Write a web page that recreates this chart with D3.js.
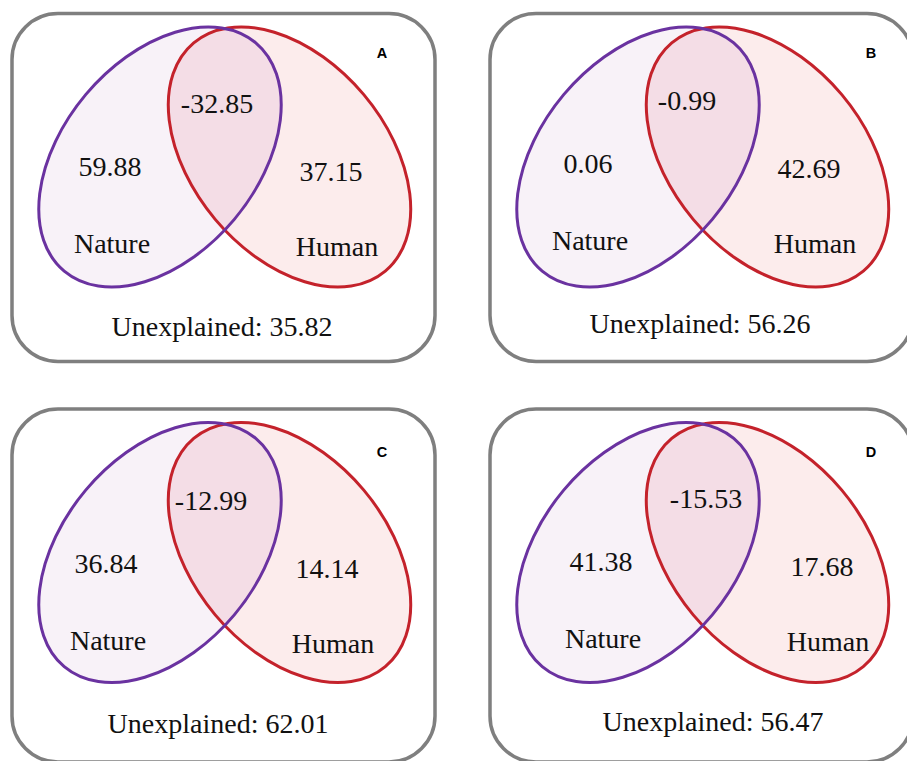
<!DOCTYPE html>
<html>
<head>
<meta charset="utf-8">
<script src="https://cdn.jsdelivr.net/npm/d3@7/dist/d3.min.js"></script>
<style>
  body { margin: 0; background: #fff; }
  .num { font-family: "Liberation Serif", "Times New Roman", serif; font-size: 28px; fill: #111; }
  .tag { font-family: "Liberation Sans", Arial, sans-serif; font-size: 14.5px; font-weight: bold; fill: #000; }
</style>
</head>
<body>
<div class="canvas"></div>
<script>

// DATA

var panels      = ["A", "B", "C", "D"];
var setNames    = ["Nature", "Human"];
var natureOnly  = [59.88, 0.06, 36.84, 41.38];
var humanOnly   = [37.15, 42.69, 14.14, 17.68];
var shared      = [-32.85, -0.99, -12.99, -15.53];
var unexplained = [35.82, 56.26, 62.01, 56.47];

// LAYOUT (per panel nudges of the labels)

var layout = [
	{col: 0, row: 0, dx: 0,  dy: 0,  midDx: 0,  tagDx: 0},
	{col: 1, row: 0, dx: 0,  dy: -3, midDx: -8, tagDx: 11},
	{col: 0, row: 1, dx: -4, dy: 2,  midDx: -2, tagDx: 0},
	{col: 1, row: 1, dx: 13, dy: 0,  midDx: -2, tagDx: 11}
];

// plain hyphen for negatives, like the original
var fmt = d3.formatLocale({decimal: ".", thousands: ",", grouping: [3], currency: ["", ""], minus: "-"}).format(".2f");

var svg = d3.select(".canvas")
			.append("svg")
			.attr("width", 907)
			.attr("height", 761);

var boxX = d3.scaleOrdinal().domain([0, 1]).range([12, 490]);
var boxY = d3.scaleOrdinal().domain([0, 1]).range([13.5, 409]);
var boxH = d3.scaleOrdinal().domain([0, 1]).range([348, 353]);

var boxW = 423;
var rx = 149, ry = 97, tilt = 50;
var natureCx = 148, humanCx = 277.5, vennCy = 143.5;

var defs = svg.append("defs");

panels.forEach(function(p, i){

	var L = layout[i];
	var g = svg.append("g")
			   .attr("transform", "translate(" + boxX(L.col) + "," + boxY(L.row) + ")");

	// BOX
	g.append("rect")
	 .attr("width", boxW)
	 .attr("height", boxH(L.row))
	 .attr("rx", 46)
	 .attr("ry", 46)
	 .attr("fill", "#fff")
	 .attr("stroke", "#7f7f7f")
	 .attr("stroke-width", 3.5);

	defs.append("clipPath")
		.attr("id", "natureClip" + i)
		.append("ellipse")
		.attr("rx", rx)
		.attr("ry", ry)
		.attr("transform", "translate(" + natureCx + "," + vennCy + ") rotate(" + (-tilt) + ")");

	// FILLS
	g.append("ellipse")
	 .attr("rx", rx).attr("ry", ry)
	 .attr("transform", "translate(" + natureCx + "," + vennCy + ") rotate(" + (-tilt) + ")")
	 .attr("fill", "#f8f2f8");

	g.append("ellipse")
	 .attr("rx", rx).attr("ry", ry)
	 .attr("transform", "translate(" + humanCx + "," + vennCy + ") rotate(" + tilt + ")")
	 .attr("fill", "#fcecec");

	g.append("g")
	 .attr("clip-path", "url(#natureClip" + i + ")")
	 .append("ellipse")
	 .attr("rx", rx).attr("ry", ry)
	 .attr("transform", "translate(" + humanCx + "," + vennCy + ") rotate(" + tilt + ")")
	 .attr("fill", "#f4dde6");

	// OUTLINES
	g.append("ellipse")
	 .attr("rx", rx).attr("ry", ry)
	 .attr("transform", "translate(" + humanCx + "," + vennCy + ") rotate(" + tilt + ")")
	 .attr("fill", "none")
	 .attr("stroke", "#c4222b")
	 .attr("stroke-width", 3);

	g.append("ellipse")
	 .attr("rx", rx).attr("ry", ry)
	 .attr("transform", "translate(" + natureCx + "," + vennCy + ") rotate(" + (-tilt) + ")")
	 .attr("fill", "none")
	 .attr("stroke", "#6a32a0")
	 .attr("stroke-width", 3);

	// LABELS
	var labels = [
		{x: 205 + L.midDx, y: 99,  text: fmt(shared[i])},
		{x: 98,  y: 162, text: fmt(natureOnly[i])},
		{x: 319, y: 167, text: fmt(humanOnly[i])},
		{x: 100, y: 239, text: setNames[0]},
		{x: 325, y: 242, text: setNames[1]},
		{x: 210, y: 322, text: "Unexplained: " + fmt(unexplained[i])}
	];

	labels.forEach(function(d){
		g.append("text")
		 .attr("class", "num")
		 .attr("text-anchor", "middle")
		 .attr("x", d.x + L.dx)
		 .attr("y", d.y + L.dy)
		 .text(d.text);
	});

	g.append("text")
	 .attr("class", "tag")
	 .attr("text-anchor", "middle")
	 .attr("x", 370 + L.tagDx)
	 .attr("y", 44 + (L.row ? 4 : 0))
	 .text(p);
});

</script>
</body>
</html>
